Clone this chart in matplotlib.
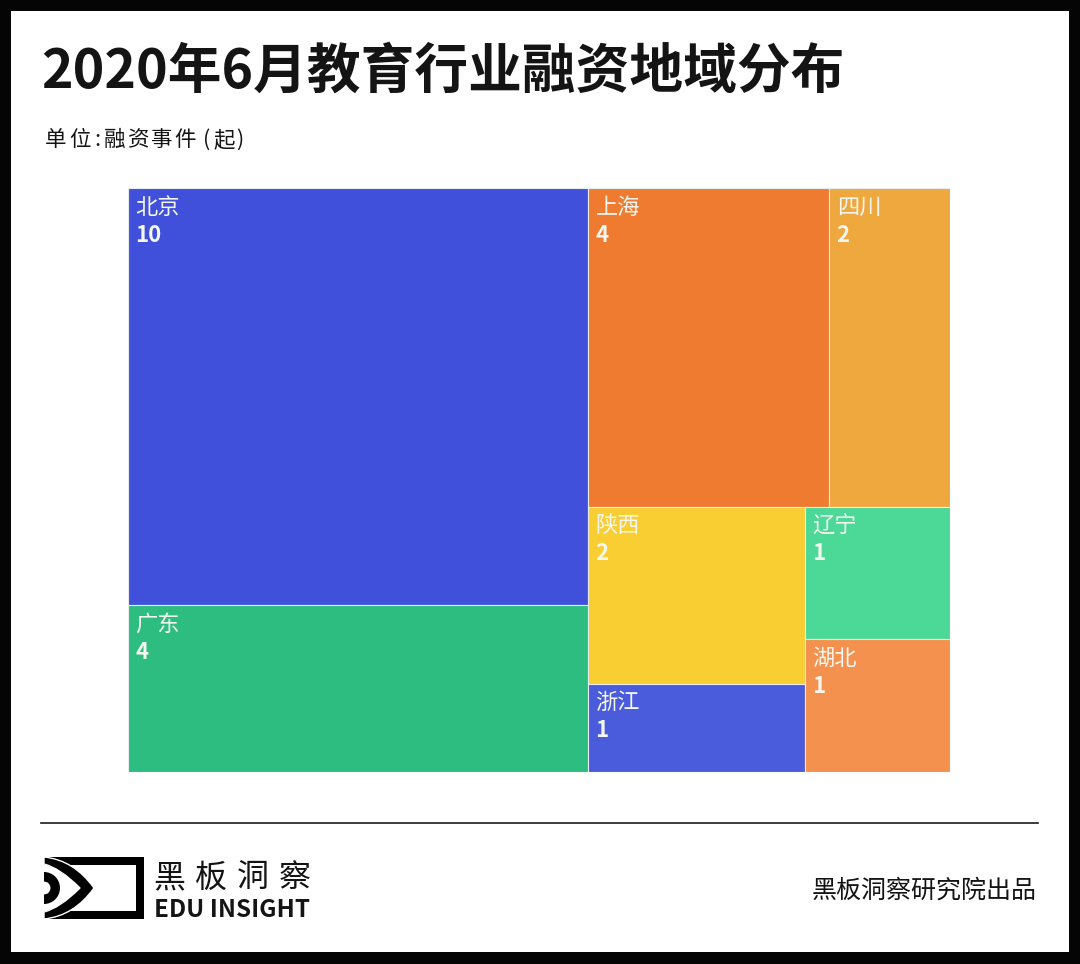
import matplotlib as mpl
import matplotlib.pyplot as plt
from matplotlib.patches import Rectangle, PathPatch, Wedge
from matplotlib.path import Path

#print('Setting MPL defaults')
mpl.rcParams['font.family'] = ['Noto Sans CJK SC', 'DejaVu Sans']
mpl.rcParams["figure.figsize"] = (10.8,9.64)
mpl.rcParams['figure.dpi'] = 100

txt_color = '#141414'
label_color = '#f4f6f0'

# alternating split: left/right, then top/bottom, and so on
tree = [[('北京',10,'#4150da'),('广东',4,'#2dbd81')],
        [[('上海',4,'#ee7b30'),('四川',2,'#efa83d')],
         [[('陕西',2,'#f8ce33'),('浙江',1,'#4a5cdb')],
          [('辽宁',1,'#4cd897'),('湖北',1,'#f5914e')]]]]


def total(node):
    if isinstance(node,tuple):
        return node[1]
    return sum([total(x) for x in node])

def draw_tree(ax,node,x,y,w,h,depth=0):
    if isinstance(node,tuple):
        ax.bar(x,h,w,y,align='edge',color=node[2],edgecolor='#e8ecef',linewidth=0.8)
        ax.annotate(node[0],(x,y),color=label_color,fontsize=16,
                textcoords='offset points',xytext=(5.2,-14),va='center',ha='left')
        ax.annotate(str(node[1]),(x,y),color=label_color,fontsize=16,fontweight='bold',
                textcoords='offset points',xytext=(5.2,-34),va='center',ha='left')
        return
    tot = total(node)
    for n in node:
        part = total(n)/tot
        if depth % 2 == 0:
            draw_tree(ax,n,x,y,w*part,h,depth+1)
            x = x+w*part
        else:
            draw_tree(ax,n,x,y,w,h*part,depth+1)
            y = y+h*part

def draw_logo(ax):
    ax.add_patch(Rectangle((44,857),100,62,color='k',lw=0))
    ax.add_patch(Rectangle((44,865),92,46,color='w',lw=0))
    # eye outline
    verts = [(44,857),(74,860),(94,888),(74,916),(44,919),(44,912),(60,908),(80,888),(60,868),(44,864),(44,857)]
    codes = [1,3,3,3,3,2,3,3,3,3,2]
    ax.add_patch(PathPatch(Path(verts,codes),facecolor='k',edgecolor='w',lw=1))
    ax.add_patch(Wedge((44,888),16,-90,90,width=9.5,color='k',lw=0))

def treemap_plot(fname):
    f = plt.figure(facecolor='#050505')

    # whole page in pixels for frame and texts
    bg = f.add_axes([0,0,1,1])
    bg.set_xlim(0,1080)
    bg.set_ylim(964,0)
    bg.axis('off')
    bg.add_patch(Rectangle((11,11),1058,941,color='w',lw=0))

    bg.text(41,72,'2020年6月教育行业融资地域分布',fontsize=38.7,fontweight='bold',
            color=txt_color,va='center',ha='left')
    # wide tracking in the unit line
    for c,x in zip('单位:融资事件(起)',[45,69,94,104,127.5,151,174.5,203,213,236]):
        bg.text(x,140,c,fontsize=15.5,color=txt_color,va='center',ha='left')

    bg.plot([41,1038],[823,823],color='#1a1a1a',lw=1.2)
    draw_logo(bg)
    for i,c in enumerate('黑板洞察'):
        bg.text(153+i*42,878,c,fontsize=23,fontweight='medium',color=txt_color,va='center',ha='left')
    bg.text(154,910,'EDU INSIGHT',fontsize=17.4,fontweight='bold',color=txt_color,va='center',ha='left')
    bg.text(1037,891,'黑板洞察研究院出品',fontsize=18,color=txt_color,va='center',ha='right')

    ax = f.add_axes([128/1080,1-772/964,822/1080,584/964])
    ax.set_xlim(0,total(tree))
    ax.set_ylim(1,0)
    ax.axis('off')
    draw_tree(ax,tree,0,0,total(tree),1)

    f.savefig(fname,facecolor=f.get_facecolor())
    return f,ax


if __name__ == '__main__':
    treemap_plot('out.png')
